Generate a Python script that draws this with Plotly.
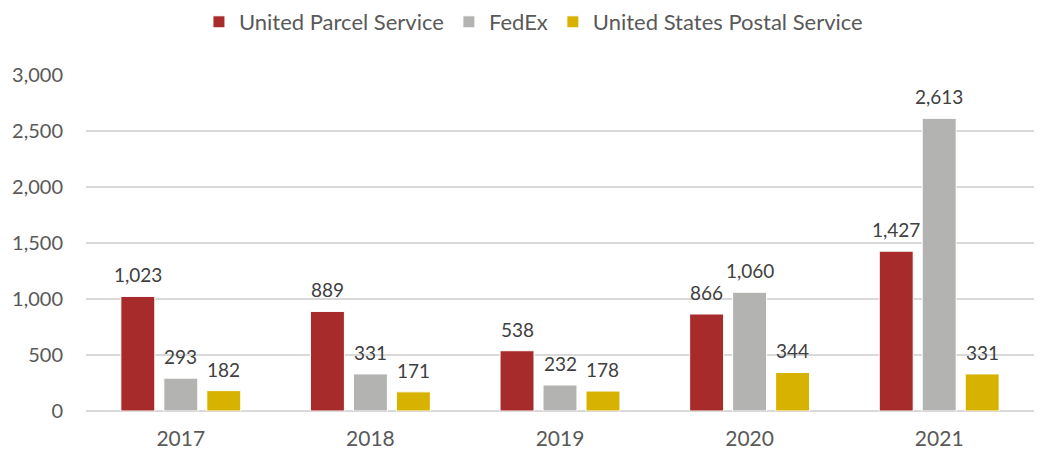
import plotly.graph_objects as go

years = ["2017", "2018", "2019", "2020", "2021"]
ups = [1023, 889, 538, 866, 1427]
fedex = [293, 331, 232, 1060, 2613]
usps = [182, 171, 178, 344, 331]

series = [
    ("United Parcel Service", ups, "#A72B2B"),
    ("FedEx", fedex, "#B3B3B1"),
    ("United States Postal Service", usps, "#D8B200"),
]

# the page body adds an 8px offset, so the figure is sized to compensate
W, H = 1039, 443
ML, MR, MT, MB = 78, 13, 67, 40
BARGAP, GROUPGAP = 0.32, 0.21
cat_w = (W - ML - MR) / len(years)
slot = cat_w * (1 - BARGAP) / len(series)

fig = go.Figure()
for i, (name, vals, color) in enumerate(series):
    fig.add_trace(go.Bar(
        x=years, y=vals, name=name,
        marker=dict(color=color, line=dict(color="white", width=1)),
    ))
    shift = (i - 1) * slot
    for j, v in enumerate(vals):
        fig.add_annotation(
            x=j, y=v, xref="x", yref="y", text=f"{v:,}",
            showarrow=False, yanchor="bottom", xshift=shift, yshift=8,
            font=dict(size=19, color="#404040", family="Lato"),
        )

fig.update_layout(
    width=W, height=H,
    margin=dict(l=ML, r=MR, t=MT, b=MB),
    paper_bgcolor="white", plot_bgcolor="white",
    barmode="group", bargap=BARGAP, bargroupgap=GROUPGAP,
    font=dict(family="Lato", color="#595959", size=20),
    legend=dict(orientation="h", x=0.472, xanchor="center", y=1 - 14 / H, yanchor="middle",
                yref="container", font=dict(size=22, color="#595959"),
                itemwidth=30, traceorder="normal"),
    xaxis=dict(type="category", range=[-0.5, len(years) - 0.5], showgrid=False,
               showline=False, ticks="", tickfont=dict(size=21), ticklabelstandoff=13,
               automargin=False),
    yaxis=dict(range=[0, 3000], dtick=500, tickformat=",", showgrid=True,
               gridcolor="#D9D9D9", gridwidth=1.5, zeroline=True,
               zerolinecolor="#D9D9D9", zerolinewidth=1.5, ticks="",
               tickfont=dict(size=20), ticklabelstandoff=22, automargin=False),
)

fig.write_html("out.html")
